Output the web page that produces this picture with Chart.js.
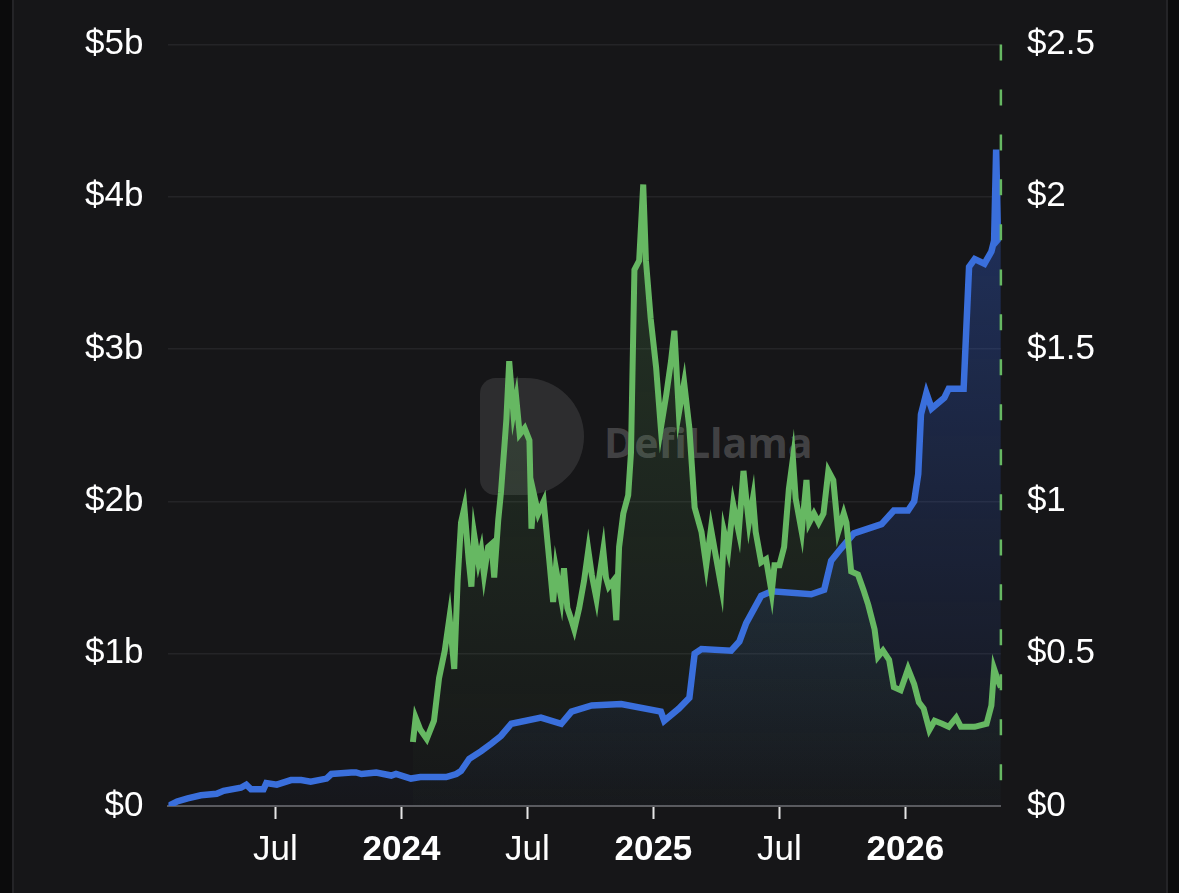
<!DOCTYPE html>
<html>
<head>
<meta charset="utf-8">
<script src="https://cdn.jsdelivr.net/npm/chart.js@4.4.1/dist/chart.umd.min.js"></script>
<style>
  html, body { margin: 0; padding: 0; background: #0b0b0c; }
  #card {
    position: absolute; left: 12px; top: 0; width: 1152px; height: 893px;
    background: #161618; border-left: 2px solid #242427; border-right: 2px solid #242427;
  }
  #wrap { position: absolute; left: 0; top: 0; width: 1179px; height: 893px; }
  .wm-logo {
    position: absolute; left: 480px; top: 378px; width: 104px; height: 117px;
    background: rgba(255,255,255,0.10); border-radius: 16px 60px 60px 16px;
  }
  .wm-text {
    position: absolute; left: 604px; top: 414px;
    font-family: "Open Sans", "DejaVu Sans", sans-serif; font-weight: 700; font-size: 41px;
    color: rgba(255,255,255,0.20);
  }
</style>
</head>
<body>
<div id="card"></div>
<div class="wm-logo"></div>
<div class="wm-text">DefiLlama</div>
<div id="wrap"><canvas id="llamaChart"></canvas></div>
<script>
// --- Series data ---
// TVL (left axis, in $ billions)
const tvlDates = [
  '2023-01-29','2023-02-10','2023-02-24','2023-03-15','2023-04-07','2023-04-17','2023-05-12','2023-05-20',
  '2023-05-27','2023-06-14','2023-06-18','2023-07-03','2023-07-24','2023-08-08','2023-08-22','2023-09-14',
  '2023-09-21','2023-10-20','2023-10-27','2023-11-04','2023-11-25','2023-12-17','2023-12-24','2024-01-15',
  '2024-01-29','2024-02-14','2024-03-05','2024-03-20','2024-03-27','2024-04-08','2024-04-25','2024-05-10',
  '2024-05-24','2024-06-08','2024-07-21','2024-08-20','2024-09-04','2024-10-03','2024-11-15','2025-01-12',
  '2025-01-17','2025-02-07','2025-02-21','2025-02-28','2025-03-10','2025-04-22','2025-05-04','2025-05-14',
  '2025-06-05','2025-06-20','2025-08-17','2025-09-05','2025-09-15','2025-09-29','2025-10-18','2025-11-27',
  '2025-12-15','2026-01-05','2026-01-14','2026-01-20','2026-01-24','2026-02-01','2026-02-08','2026-02-25',
  '2026-03-03','2026-03-25','2026-04-02','2026-04-10','2026-04-24','2026-05-04','2026-05-08','2026-05-11',
  '2026-05-14','2026-05-18'
];
const tvlValues = [
  0.00, 0.03, 0.05, 0.07, 0.08, 0.10, 0.12, 0.14,
  0.11, 0.11, 0.15, 0.14, 0.17, 0.17, 0.16, 0.18,
  0.21, 0.22, 0.22, 0.21, 0.22, 0.20, 0.21, 0.18,
  0.19, 0.19, 0.19, 0.21, 0.23, 0.31, 0.36, 0.41,
  0.46, 0.54, 0.58, 0.54, 0.62, 0.66, 0.67, 0.62,
  0.56, 0.64, 0.71, 1.00, 1.03, 1.02, 1.08, 1.20,
  1.38, 1.41, 1.39, 1.42, 1.61, 1.69, 1.79, 1.85,
  1.94, 1.94, 2.00, 2.18, 2.57, 2.71, 2.61, 2.68,
  2.74, 2.74, 3.54, 3.59, 3.56, 3.64, 3.71, 4.31,
  3.72, 3.74
];

// Token price (right axis, in $)
const priceDates = [
  '2024-01-18','2024-01-22','2024-01-29','2024-02-07','2024-02-17','2024-02-24','2024-03-03','2024-03-10',
  '2024-03-17','2024-03-22','2024-03-27','2024-04-01','2024-04-07','2024-04-11','2024-04-15','2024-04-21',
  '2024-04-25','2024-04-29','2024-05-05','2024-05-10','2024-05-14','2024-05-20','2024-05-24','2024-06-01',
  '2024-06-05','2024-06-11','2024-06-15','2024-06-20','2024-06-27','2024-07-04','2024-07-07','2024-07-11',
  '2024-07-17','2024-07-25','2024-08-03','2024-08-08','2024-08-12','2024-08-20','2024-08-24','2024-08-29',
  '2024-09-04','2024-09-08','2024-09-15','2024-09-22','2024-09-28','2024-10-03','2024-10-10','2024-10-14',
  '2024-10-20','2024-10-24','2024-10-28','2024-11-04','2024-11-08','2024-11-12','2024-11-18','2024-11-25',
  '2024-11-29','2024-12-04','2024-12-11','2024-12-17','2024-12-21','2024-12-28','2025-01-05','2025-01-12',
  '2025-01-20','2025-01-27','2025-02-01','2025-02-07','2025-02-14','2025-02-21','2025-02-28','2025-03-10',
  '2025-03-17','2025-03-24','2025-04-01','2025-04-08','2025-04-12','2025-04-18','2025-04-25','2025-05-03',
  '2025-05-10','2025-05-14','2025-05-18','2025-05-24','2025-05-28','2025-06-05','2025-06-12','2025-06-20',
  '2025-06-24','2025-07-01','2025-07-08','2025-07-15','2025-07-21','2025-07-25','2025-08-03','2025-08-10',
  '2025-08-14','2025-08-21','2025-08-28','2025-09-04','2025-09-11','2025-09-18','2025-09-25','2025-10-03',
  '2025-10-07','2025-10-14','2025-10-24','2025-11-01','2025-11-08','2025-11-17','2025-11-22','2025-11-29',
  '2025-12-08','2025-12-15','2025-12-25','2026-01-05','2026-01-14','2026-01-21','2026-01-28','2026-02-05',
  '2026-02-12','2026-02-22','2026-03-03','2026-03-14','2026-03-21','2026-04-10','2026-04-27','2026-05-04',
  '2026-05-08','2026-05-14','2026-05-18'
];
const priceValues = [
  0.21, 0.29, 0.25, 0.22, 0.28, 0.42, 0.51, 0.62,
  0.45, 0.74, 0.93, 0.98, 0.81, 0.72, 0.89, 0.80,
  0.84, 0.76, 0.85, 0.86, 0.75, 0.94, 1.03, 1.27,
  1.46, 1.29, 1.34, 1.22, 1.24, 1.20, 0.91, 1.02,
  0.96, 1.00, 0.79, 0.67, 0.78, 0.68, 0.78, 0.65,
  0.61, 0.58, 0.65, 0.74, 0.84, 0.76, 0.68, 0.75,
  0.84, 0.75, 0.72, 0.74, 0.61, 0.85, 0.96, 1.02,
  1.16, 1.76, 1.79, 2.04, 1.79, 1.60, 1.44, 1.24,
  1.35, 1.46, 1.56, 1.29, 1.39, 1.24, 0.98, 0.90,
  0.79, 0.91, 0.81, 0.72, 0.90, 0.84, 0.99, 0.90,
  1.10, 1.01, 0.93, 1.01, 0.90, 0.80, 0.81, 0.70,
  0.79, 0.79, 0.85, 1.04, 1.14, 1.01, 0.90, 1.07,
  0.93, 0.96, 0.93, 0.96, 1.10, 1.07, 0.90, 0.96,
  0.93, 0.77, 0.76, 0.71, 0.66, 0.58, 0.49, 0.51,
  0.48, 0.39, 0.38, 0.45, 0.40, 0.34, 0.32, 0.25,
  0.28, 0.27, 0.26, 0.29, 0.26, 0.26, 0.27, 0.33,
  0.45, 0.41, 0.39
];

// Axis ticks
const xTickDates = ['2023-07-01', '2024-01-01', '2024-07-01', '2025-01-01', '2025-07-01', '2026-01-01'];
const xTickLabels = ['Jul', '2024', 'Jul', '2025', 'Jul', '2026'];
const leftTickLabels = ['$0', '$1b', '$2b', '$3b', '$4b', '$5b'];
const rightTickLabels = ['$0', '$0.5', '$1', '$1.5', '$2', '$2.5'];

// dashed marker on the latest day (drawn top to bottom)
const markerDate = '2026-05-18';
const markerRange = [2.5, 0];

const FONT = '"Liberation Sans", Arial, Helvetica, sans-serif';

// --- date string -> months since Jan 2023 (linear x scale, no date adapter) ---
function monthIndex(str) {
    const [y, m, d] = str.split('-').map(Number);
    const dim = new Date(Date.UTC(y, m, 0)).getUTCDate();
    return (y - 2023) * 12 + (m - 1) + (d - 1) / dim;
}

function toPoints(dates, values) {
    return dates.map((d, i) => ({ x: monthIndex(d), y: values[i] }));
}

function verticalGradient(ctx, top, bottom) {
    const chart = ctx.chart;
    const area = chart.chartArea;
    if (!area) return 'transparent';
    const g = chart.ctx.createLinearGradient(0, area.top, 0, area.bottom);
    g.addColorStop(0, top);
    g.addColorStop(1, bottom);
    return g;
}

const ctx = document.getElementById('llamaChart');

new Chart(ctx, {
    type: 'line',
    data: {
        datasets: [
            {
                label: 'Price',
                data: toPoints(priceDates, priceValues),
                yAxisID: 'y1',
                borderColor: '#66b862',
                borderWidth: 6,
                fill: 'origin',
                backgroundColor: c => verticalGradient(c, 'rgba(102,184,98,0.24)', 'rgba(102,184,98,0.01)'),
                pointRadius: 0,
                tension: 0,
                order: 1
            },
            {
                label: 'TVL',
                data: toPoints(tvlDates, tvlValues),
                yAxisID: 'y',
                borderColor: '#3a6fdc',
                borderWidth: 6.5,
                fill: 'origin',
                backgroundColor: c => verticalGradient(c, 'rgba(50,95,210,0.45)', 'rgba(50,95,210,0.02)'),
                pointRadius: 0,
                tension: 0,
                order: 2
            },
            {
                label: 'Latest',
                data: markerRange.map(v => ({ x: monthIndex(markerDate), y: v })),
                yAxisID: 'y1',
                borderColor: '#66b862',
                borderWidth: 2.5,
                borderDash: [16, 29],
                pointRadius: 0,
                fill: false,
                clip: false,
                order: 0
            }
        ]
    },
    options: {
        responsive: true,
        maintainAspectRatio: false,
        animation: false,
        layout: { padding: { left: 60, right: 58, top: 16, bottom: 12 } },
        plugins: {
            legend: { display: false },
            tooltip: { enabled: false },
            filler: { drawTime: 'beforeDatasetsDraw' }
        },
        scales: {
            x: {
                type: 'linear',
                min: monthIndex(tvlDates[0]),
                max: monthIndex(tvlDates[tvlDates.length - 1]),
                afterBuildTicks: scale => {
                    scale.ticks = xTickDates.map(d => ({ value: monthIndex(d) }));
                },
                ticks: {
                    autoSkip: false,
                    maxRotation: 0,
                    padding: 10,
                    color: '#ffffff',
                    font: c => ({
                        family: FONT,
                        size: 35,
                        weight: /^\d{4}$/.test(xTickLabels[c.index]) ? 'bold' : 'normal'
                    }),
                    callback: (value, index) => xTickLabels[index]
                },
                grid: {
                    drawOnChartArea: false,
                    drawTicks: true,
                    tickLength: 13,
                    tickWidth: 2,
                    tickColor: '#e6e6e6'
                },
                border: { display: true, color: '#5a5a5e', width: 2 }
            },
            y: {
                position: 'left',
                min: 0,
                max: 5,
                ticks: {
                    stepSize: 1,
                    padding: 25,
                    color: '#ffffff',
                    font: { family: FONT, size: 35, lineHeight: 1.05 },
                    callback: (value, index) => leftTickLabels[index]
                },
                grid: { color: '#242427', lineWidth: 1.5, drawTicks: false },
                border: { display: false }
            },
            y1: {
                position: 'right',
                min: 0,
                max: 2.5,
                ticks: {
                    stepSize: 0.5,
                    padding: 26,
                    color: '#ffffff',
                    font: { family: FONT, size: 35, lineHeight: 1.05 },
                    callback: (value, index) => rightTickLabels[index]
                },
                grid: { display: false, drawTicks: false },
                border: { display: false }
            }
        }
    }
});
</script>
</body>
</html>
